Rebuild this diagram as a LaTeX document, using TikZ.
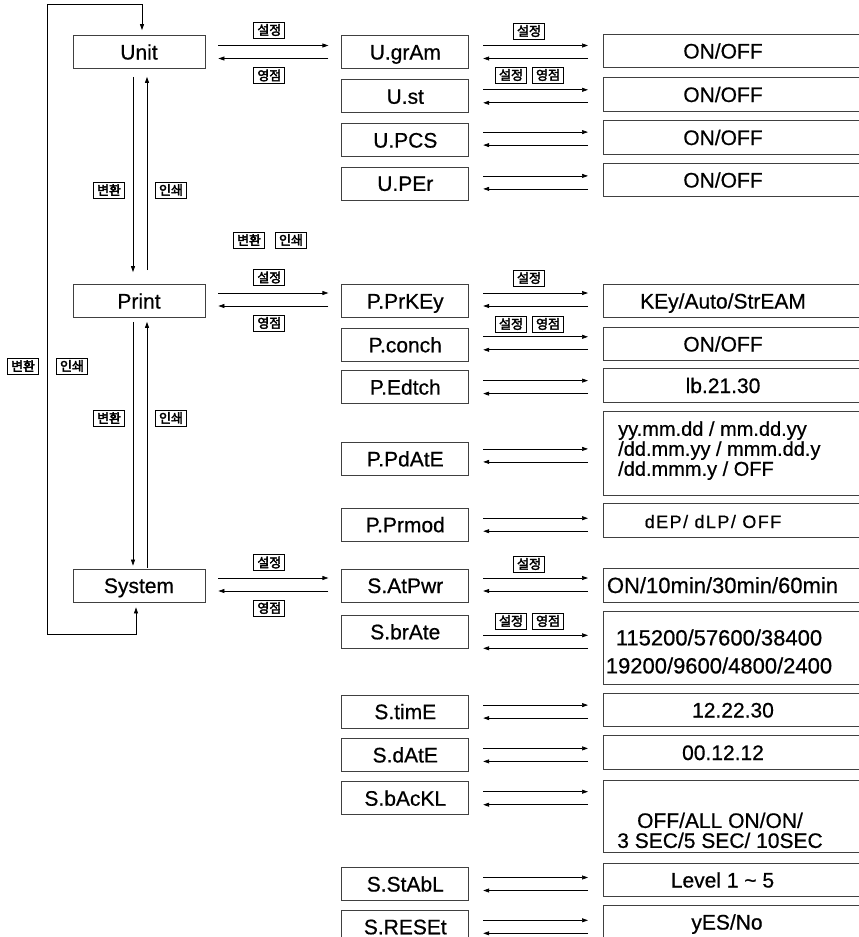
\documentclass[tikz,border=0pt]{standalone}
\usepackage{fontspec}
\setmainfont{Liberation Sans}[FakeBold=0.6]
\newfontfamily\kfont{Noto Sans CJK KR}[FakeBold=3]
\usetikzlibrary{positioning, arrows.meta}

\begin{document}
\begin{tikzpicture}[
    x=1pt, y=-1pt,
    font=\fontsize{21}{21}\selectfont,
    >={Triangle[length=6pt, width=4pt]},
    box/.style={draw=black!75, line width=0.8pt, minimum height=33pt,
                inner sep=0pt, text height=15pt, text depth=0pt},
    menu/.style={box, minimum width=132pt},
    item/.style={box, minimum width=127pt},
    val/.style={inner sep=0pt, minimum height=33pt, text height=15pt, text depth=0pt},
    multi/.style={inner sep=0pt, align=center},
    frame/.style={draw=black!75, line width=0.8pt},
    tag/.style={draw, line width=1pt, fill=white, inner sep=1pt,
                minimum width=31pt, minimum height=16pt,
                font=\kfont\fontsize{13}{13}\selectfont},
    ar/.style={->, line width=0.7pt},
  ]
  \useasboundingbox (0,0) rectangle (859,937);

  % ---- main menu
  \node[menu] (unit) at (139,52) {Unit};
  \node[menu] (print) at (139,301) {Print};
  \node[menu] (system) at (139,585.5) {System};

  % ---- sub menus
  \node[item, right=136pt of unit] (ugram) {U.grAm};
  \node[item, below=10.5pt of ugram] (ust) {U.st};
  \node[item, below=10pt of ust] (upcs) {U.PCS};
  \node[item, below=9.5pt of upcs] (uper) {U.PEr};

  \node[item, right=136pt of print] (pprkey) {P.PrKEy};
  \node[item, below=10pt of pprkey] (pconch) {P.conch};
  \node[item, below=8.5pt of pconch] (pedtch) {P.Edtch};
  \node[item, below=38pt of pedtch] (ppdate) {P.PdAtE};
  \node[item, below=32pt of ppdate] (pprmod) {P.Prmod};

  \node[item, right=136pt of system] (satpwr) {S.AtPwr};
  \node[item, below=12.5pt of satpwr] (sbrate) {S.brAte};
  \node[item, below=46pt of sbrate] (stime) {S.timE};
  \node[item, below=9.5pt of stime] (sdate) {S.dAtE};
  \node[item, below=9.5pt of sdate] (sbackl) {S.bAcKL};
  \node[item, below=52pt of sbackl] (sstabl) {S.StAbL};
  \node[item, below=9pt of sstabl] (sreset) {S.RESEt};

  % ---- values
  \coordinate (vl) at (603,0);
  \coordinate (vr) at (870,0);
  \node[val] (vgram) at (723,51) {ON/OFF};
  \node[val] (vst) at (723,94.5) {ON/OFF};
  \node[val] (vpcs) at (723,137.5) {ON/OFF};
  \node[val] (vper) at (723,180) {ON/OFF};
  \node[val] (vprkey) at (723,301) {KEy/Auto/StrEAM};
  \node[val] (vconch) at (723,344) {ON/OFF};
  \node[val] (vedtch) at (723,385.5) {lb.21.30};
  \node[multi, align=left, anchor=west, minimum height=83pt,
        font=\fontsize{20}{20}\selectfont] (vpdate) at (618,453.5)
    {yy.mm.dd / mm.dd.yy\\/dd.mm.yy / mmm.dd.y\\/dd.mmm.y / OFF\rule[-10pt]{0pt}{10pt}};
  \node[val, font=\fontsize{18}{18}\selectfont\addfontfeature{LetterSpace=8}]
    (vprmod) at (713,520.5) {dEP/ dLP/ OFF};
  \node[val, font=\fontsize{22}{22}\selectfont] (vatpwr) at (722.5,585.5)
    {ON/10min/30min/60min};
  \node[multi, minimum height=72pt, font=\fontsize{22}{28}\selectfont]
    (vbrate) at (719,648) {\rule{0pt}{23pt}115200/57600/38400\\19200/9600/4800/2400};
  \node[val] (vtime) at (733,710) {12.22.30};
  \node[val] (vdate) at (723,752.5) {00.12.12};
  \node[multi, minimum height=71pt, font=\fontsize{21}{20}\selectfont]
    (vbackl) at (720,816.5) {\rule{0pt}{43pt}OFF/ALL ON/ON/\\3 SEC/5 SEC/ 10SEC};
  \node[val] (vstabl) at (722.5,880) {Level 1 \textasciitilde{} 5};
  \node[val] (vreset) at (727,922) {yES/No};

  \foreach \n in {vgram, vst, vpcs, vper, vprkey, vconch, vedtch, vpdate, vprmod,
                  vatpwr, vbrate, vtime, vdate, vbackl, vstabl, vreset}
    \draw[frame] (\n.north -| vl) rectangle (\n.south -| vr);

  % ---- main menu -> sub menu
  \foreach \a/\b/\d in {unit/ugram/0, print/pprkey/1.5, system/satpwr/1} {
    \path ([yshift={\d+6.5}]\a.east) coordinate (hi)
          ([yshift={\d-6.5}]\a.east) coordinate (lo);
    \draw[ar, shorten <=13pt, shorten >=13pt] (hi)
      -- node[tag, above=7pt, xshift=-4pt] (set-\a) {설정} (hi -| \b.west);
    \draw[ar, shorten <=13pt, shorten >=13pt] (lo -| \b.west)
      -- node[tag, below=8.5pt, xshift=-4pt] (zero-\a) {영점} (lo);
  }

  % ---- sub menu -> value
  \foreach \a/\d in {ugram/0, ust/0, upcs/1.5, uper/1, pprkey/1.5, pconch/1.5,
                     pedtch/0, ppdate/3.5, pprmod/0, satpwr/1, sbrate/-10, stime/0,
                     sdate/0, sbackl/0, sstabl/0, sreset/0} {
    \path ([yshift={\d+6.5}]\a.east) coordinate (hi)
          ([yshift={\d-6.5}]\a.east) coordinate (lo);
    \draw[ar, shorten <=14pt, shorten >=15pt] (hi) -- (hi -| vl);
    \draw[ar, shorten <=15pt, shorten >=14pt] (lo -| vl) -- (lo);
  }

  \node[tag] (set-u) at (529,31) {설정};
  \node[tag] (set-u2) at (511,75) {설정};
  \node[tag] (zero-u2) at (548,75) {영점};
  \node[tag] (set-p) at (529,278) {설정};
  \node[tag] (set-p2) at (511,324) {설정};
  \node[tag] (zero-p2) at (548,324) {영점};
  \node[tag] (set-s) at (529,564) {설정};
  \node[tag] (set-s2) at (511,621) {설정};
  \node[tag] (zero-s2) at (548,621) {영점};

  % ---- up / down between main menus
  \draw[ar, shorten <=8pt, shorten >=12pt] ([xshift=-6pt]unit.south) -- ([xshift=-6pt]print.north);
  \draw[ar, shorten <=14pt, shorten >=8pt] ([xshift=8pt]print.north) -- ([xshift=8pt]unit.south);
  \draw[ar, shorten <=4pt, shorten >=3pt] ([xshift=-6pt]print.south) -- ([xshift=-6pt]system.north);
  \draw[ar, shorten <=1pt, shorten >=4pt] ([xshift=8pt]system.north) -- ([xshift=8pt]print.south);

  \node[tag] (conv-up) at (109,190) {변환};
  \node[tag] (prn-up) at (171,190) {인쇄};
  \node[tag] (conv-mid) at (249,240) {변환};
  \node[tag] (prn-mid) at (291,240) {인쇄};
  \node[tag] (conv-lo) at (109,418) {변환};
  \node[tag] (prn-lo) at (171,418) {인쇄};

  % ---- wrap around
  \coordinate (ltop) at (47,4);
  \coordinate (lbot) at (47,634);
  \draw[<->, line width=0.7pt, shorten <=5pt, shorten >=5pt]
    ([xshift=3pt]unit.north) |- (ltop) -- (lbot) -| ([xshift=-3pt]system.south);

  \node[tag] (conv-wrap) at (23,366) {변환};
  \node[tag] (prn-wrap) at (72,366) {인쇄};
\end{tikzpicture}
\end{document}
